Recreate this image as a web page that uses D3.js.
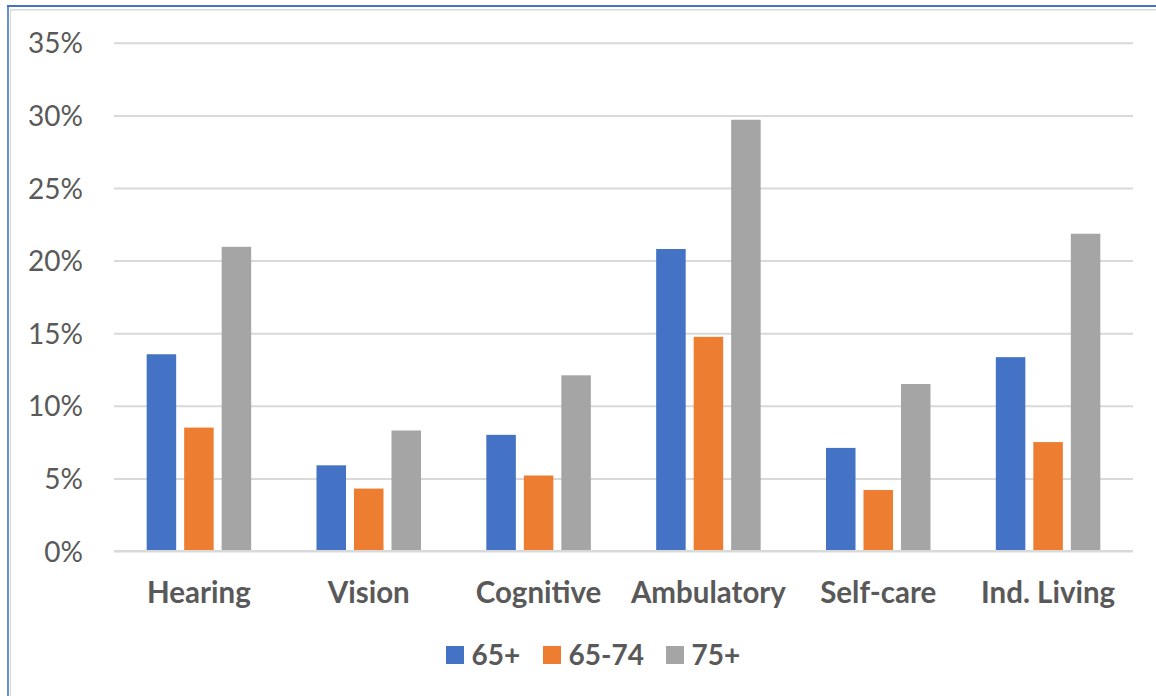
<!DOCTYPE html>
<html><head><meta charset="utf-8">
<script src="https://cdn.jsdelivr.net/npm/d3@7"></script>
<style>html,body{margin:0;padding:0;background:#fff;}svg{display:block;}</style>
</head><body>
<svg id="chart" width="1156" height="696"></svg>
<script>
const categories = ["Hearing","Vision","Cognitive","Ambulatory","Self-care","Ind. Living"];
const seriesNames = ["65+","65-74","75+"];
const s65plus = [13.55, 5.9, 8.0, 20.8, 7.1, 13.35];
const s65to74 = [8.5, 4.3, 5.2, 14.75, 4.2, 7.5];
const s75plus = [20.95, 8.3, 12.1, 29.7, 11.5, 21.85];
const yTicks = [0,5,10,15,20,25,30,35];
const colors = ["#4472C4","#ED7D31","#A5A5A5"];

(function(){
const series = [s65plus, s65to74, s75plus];
const svg = d3.select("#chart");
const W = 1156, H = 696;
const pL = 114, pR = 1133, pT = 42.8, pB = 551;
const font = "Lato, 'Open Sans', sans-serif";
const txt = "#595959";

// border
svg.append("line").attr("x1",10).attr("x2",W).attr("y1",9.8).attr("y2",9.8).attr("stroke","#d9d9d9").attr("stroke-width",1.6);
svg.append("line").attr("x1",10.5).attr("x2",10.5).attr("y1",10).attr("y2",H).attr("stroke","#d9d9d9").attr("stroke-width",1.2);
svg.append("line").attr("x1",7).attr("x2",W).attr("y1",6).attr("y2",6).attr("stroke","#4472C4").attr("stroke-width",2);
svg.append("line").attr("x1",8).attr("x2",8).attr("y1",5).attr("y2",H).attr("stroke","#4472C4").attr("stroke-width",1.6);

const y = d3.scaleLinear().domain([0,35]).range([pB, pT]);
const x0 = d3.scaleBand().domain(categories).range([pL, pR]).paddingInner(0).paddingOuter(0);
const x1 = d3.scaleBand().domain(seriesNames).range([0, 104.5]).paddingInner(0.213);

// gridlines
const yAxis = d3.axisLeft(y).tickValues(yTicks).tickSize(-(pR-pL)).tickFormat(d => d + "%").tickPadding(31);
const gy = svg.append("g").attr("transform",`translate(${pL},0)`).call(yAxis);
gy.select(".domain").remove();
gy.selectAll(".tick line").attr("stroke","#d9d9d9").attr("stroke-width",2);
gy.selectAll(".tick text").attr("fill",txt).attr("font-family",font).attr("font-size",28).attr("dy","0.36em");

// bars
const groups = svg.append("g").selectAll("g").data(categories).join("g")
  .attr("transform", d => `translate(${x0(d) + x0.bandwidth()/2 - 52.25},0)`);
groups.selectAll("rect").data((c,i) => seriesNames.map((s,j) => ({s, v: series[j][i], j})))
  .join("rect")
  .attr("x", d => x1(d.s)).attr("width", x1.bandwidth())
  .attr("y", d => y(d.v)).attr("height", d => y(0) - y(d.v))
  .attr("fill", d => colors[d.j]);

svg.append("line").attr("x1",pL).attr("x2",pR).attr("y1",y(0)).attr("y2",y(0)).attr("stroke","#d9d9d9").attr("stroke-width",2);

// x labels
const xAxis = d3.axisBottom(x0).tickSize(0).tickPadding(0);
const gx = svg.append("g").attr("transform",`translate(0,${pB})`).call(xAxis);
gx.select(".domain").remove();
gx.selectAll(".tick text").attr("fill",txt).attr("font-family",font).attr("font-weight","bold")
  .attr("font-size",29.5).attr("dy",null).attr("y",51.5);

// legend
const legX = [446, 543, 666];
const leg = svg.append("g").selectAll("g").data(seriesNames).join("g")
  .attr("transform",(d,i)=>`translate(${legX[i]},646)`);
leg.append("rect").attr("width",18).attr("height",18).attr("fill",(d,i)=>colors[i]);
leg.append("text").attr("x",25.5).attr("y",18.5).text(d=>d).attr("fill",txt).attr("font-family",font)
  .attr("font-weight","bold").attr("font-size",28);
})();
</script>
</body></html>
